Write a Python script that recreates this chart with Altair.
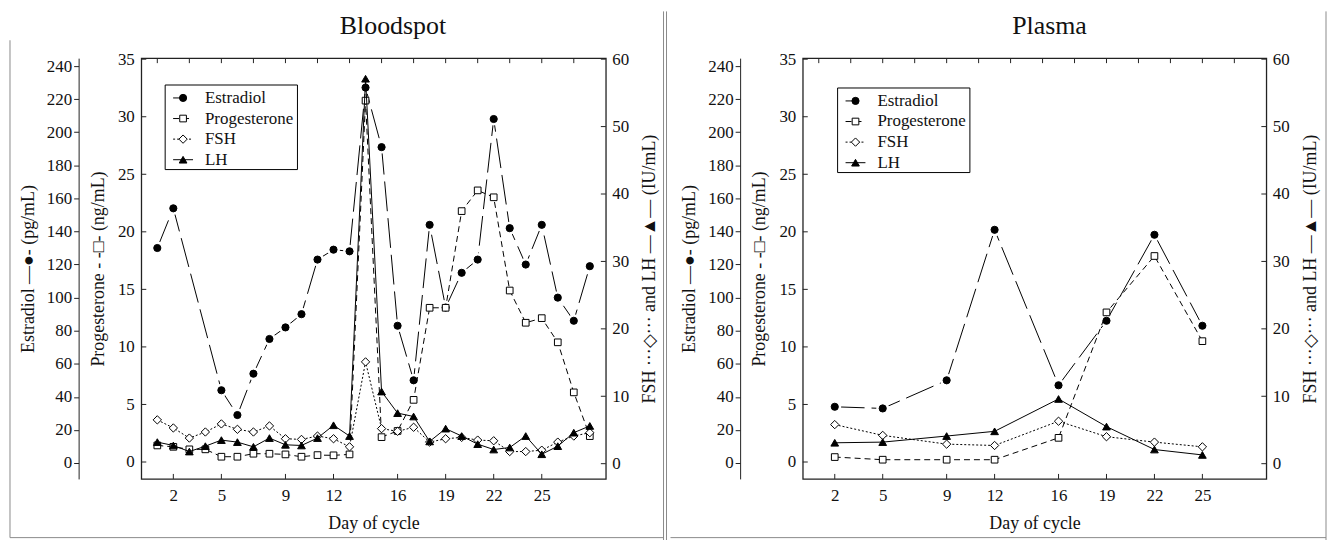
import altair as alt
import pandas as pd

FONT = "Liberation Serif"
INK = "#111111"
FRAME = "#222222"
BORDER = "#8a8a8a"

NAMES = ["Estradiol", "Progesterone", "FSH", "LH"]

# ---- Bloodspot data ----
BS_DAYS = [1, 2, 3, 4, 5, 6, 7, 8, 9, 10, 11, 12, 13, 14, 15, 16, 17, 18, 19, 20, 21, 22, 23, 24, 25, 26, 27, 28]
BS_ESTR_DAYS = [1, 2, 5, 6, 7, 8, 9, 10, 11, 12, 13, 14, 15, 16, 17, 18, 19, 20, 21, 22, 23, 24, 25, 26, 27, 28]
BS_ESTR = [130, 154, 44, 29, 54, 75, 82, 90, 123, 129, 128, 227, 191, 83, 50, 144, 94, 115, 123, 208, 142, 120, 144, 100, 86, 119]
BS_PROG = [1.44, 1.32, 1.1, 1.1, 0.46, 0.46, 0.72, 0.72, 0.66, 0.46, 0.6, 0.58, 0.66, 31.4, 2.16, 2.7, 5.4, 13.4, 13.4, 21.8, 23.6, 23.0, 14.9, 12.1, 12.5, 10.4, 6.05, 2.25]
BS_FSH = [6.5, 5.3, 3.8, 4.7, 5.9, 5.1, 4.7, 5.6, 3.7, 3.6, 4.1, 3.7, 2.5, 15.1, 5.2, 4.8, 5.4, 3.2, 3.7, 3.9, 3.5, 3.4, 1.8, 1.8, 2.0, 3.2, 4.1, 4.6]
BS_LH = [3.2, 2.7, 1.8, 2.6, 3.5, 3.2, 2.5, 3.8, 2.8, 2.7, 3.8, 5.7, 4.1, 57.1, 10.7, 7.5, 7.0, 3.3, 5.2, 4.1, 2.9, 2.1, 2.4, 4.1, 1.4, 2.6, 4.6, 5.6]

# ---- Plasma data ----
PL_DAYS = [2, 5, 9, 12, 16, 19, 22, 25]
PL_ESTR = [34, 33, 50, 141, 47, 86, 138, 83]
PL_PROG = [0.43, 0.2, 0.2, 0.2, 2.1, 13.0, 17.9, 10.5]
PL_FSH = [5.8, 4.2, 2.9, 2.7, 6.3, 4.0, 3.2, 2.5]
PL_LH = [3.1, 3.2, 4.1, 4.8, 9.6, 5.5, 2.1, 1.3]

# ---- ticks ----
X_TICKS = [2, 5, 9, 12, 16, 19, 22, 25]
X_TOP_TICKS = [1, 3, 5, 7, 9, 11, 13, 15, 17, 19, 21, 23, 25, 27]
E_TICKS = [0, 20, 40, 60, 80, 100, 120, 140, 160, 180, 200, 220, 240]
P_TICKS = [0, 5, 10, 15, 20, 25, 30, 35]
L_TICKS = [0, 10, 20, 30, 40, 50, 60]

X_DOMAIN = [0, 29]
E_DOMAIN = [-9.62, 244.8]
P_DOMAIN = [-1.47, 35.09]
L_DOMAIN = [-2.26, 60.15]

DASH = {"Estradiol": [30, 7], "Progesterone": [6, 4], "FSH": [2, 2]}
SHAPE = {"Estradiol": "circle", "Progesterone": "square", "FSH": "diamond", "LH": "triangle-up"}
FILL = {"Estradiol": "black", "Progesterone": "white", "FSH": "white", "LH": "black"}
SIZE = {"Estradiol": 52, "Progesterone": 45, "FSH": 70, "LH": 60}

E_TITLE = "Estradiol \u2014\u25cf- (pg/mL)"
P_TITLE = "Progesterone - -\u25a1- (ng/mL)"
L_TITLE = "FSH \u00b7\u00b7\u00b7\u25c7\u00b7\u00b7\u00b7 and LH \u2014\u25b2\u2014 (IU/mL)"

H = 423


def one_row():
    return pd.DataFrame({"k": [0]})


def ysc(dom):
    return alt.Scale(domain=dom, nice=False, zero=False)


def panel(title, title_x, e_days, e_vals, days, p_vals, f_vals, l_vals, W, lx, ly, deco):
    xs = alt.Scale(domain=X_DOMAIN, nice=False, zero=False)
    x_axis = alt.Axis(values=X_TICKS, title="Day of cycle", domain=False, ticks=False, tickSize=0,
                      labelPadding=9, titlePadding=11, labelFontSize=17, titleFontSize=18,
                      labelOverlap=False, grid=False)

    def X(field):
        return alt.X(f"{field}:Q", scale=xs, axis=x_axis)

    e_axis = alt.Axis(orient="left", offset=63, values=E_TICKS, title=E_TITLE, domain=True,
                      domainColor=FRAME, ticks=True, tickSize=5, tickColor=FRAME,
                      labelPadding=2, titlePadding=9, labelFontSize=17, titleFontSize=18,
                      labelOverlap=False, grid=False)
    p_axis = alt.Axis(orient="left", values=P_TICKS, title=P_TITLE, domain=False, ticks=False,
                      tickSize=0, labelPadding=7, titlePadding=10, labelFontSize=17,
                      titleFontSize=18, labelOverlap=False, grid=False)
    l_axis = alt.Axis(orient="right", values=L_TICKS, title=L_TITLE, domain=False, ticks=False,
                      tickSize=0, labelPadding=6, titlePadding=12, labelFontSize=17,
                      titleFontSize=18, titleAngle=270, titleBaseline="top",
                      labelOverlap=False, grid=False)

    series = [
        ("Estradiol", e_days, e_vals, E_DOMAIN, e_axis),
        ("Progesterone", days, p_vals, P_DOMAIN, p_axis),
        ("FSH", days, f_vals, L_DOMAIN, l_axis),
        ("LH", days, l_vals, L_DOMAIN, None),
    ]
    layers = []
    for name, d, v, dom, axis in series:
        base = alt.Chart(pd.DataFrame({"day": d, "v": v}))
        kw = dict(color="black", strokeWidth=1)
        if name in DASH:
            kw["strokeDash"] = DASH[name]
        layers.append(base.mark_line(**kw).encode(
            x=X("day"), y=alt.Y("v:Q", scale=ysc(dom), axis=axis)))
        if name == "Estradiol":
            layers.append(base.mark_point(shape="circle", filled=True, fill="white", size=170,
                                          opacity=1).encode(
                x=X("day"), y=alt.Y("v:Q", scale=ysc(dom), axis=None)))
        layers.append(base.mark_point(shape=SHAPE[name], filled=True, fill=FILL[name],
                                      stroke="black", strokeWidth=1, size=SIZE[name],
                                      opacity=1).encode(
            x=X("day"), y=alt.Y("v:Q", scale=ysc(dom), axis=None)))

    # inward frame ticks
    layers.append(alt.Chart(pd.DataFrame({"t": P_TICKS})).mark_rule(color=FRAME, strokeWidth=1).encode(
        y=alt.Y("t:Q", scale=ysc(P_DOMAIN), axis=None), x=alt.value(0), x2=alt.value(5)))
    layers.append(alt.Chart(pd.DataFrame({"t": L_TICKS})).mark_rule(color=FRAME, strokeWidth=1).encode(
        y=alt.Y("t:Q", scale=ysc(L_DOMAIN), axis=None), x=alt.value(W - 5), x2=alt.value(W)))
    layers.append(alt.Chart(pd.DataFrame({"t": X_TOP_TICKS})).mark_rule(color=FRAME, strokeWidth=1).encode(
        x=X("t"), y=alt.value(0), y2=alt.value(5)))
    layers.append(alt.Chart(pd.DataFrame({"t": X_TICKS})).mark_rule(color=FRAME, strokeWidth=1).encode(
        x=X("t"), y=alt.value(H - 5), y2=alt.value(H)))

    # legend box
    layers.append(alt.Chart(one_row()).mark_rect(fill="white", stroke="black", strokeWidth=1).encode(
        x=alt.value(lx), x2=alt.value(lx + 133), y=alt.value(ly), y2=alt.value(ly + 85)))
    for i, name in enumerate(NAMES):
        yy = ly + 13 + i * 20.7
        x_end = lx + 20 if name == "Estradiol" else lx + 28
        kw = dict(color="black", strokeWidth=1)
        if name in ("Progesterone", "FSH"):
            kw["strokeDash"] = DASH[name]
        layers.append(alt.Chart(one_row()).mark_rule(**kw).encode(
            x=alt.value(lx + 8), x2=alt.value(x_end), y=alt.value(yy)))
        layers.append(alt.Chart(one_row()).mark_point(shape=SHAPE[name], filled=True, fill=FILL[name],
                                                      stroke="black", strokeWidth=1,
                                                      size=SIZE[name], opacity=1).encode(
            x=alt.value(lx + 18), y=alt.value(yy)))
        layers.append(alt.Chart(one_row()).mark_text(align="left", baseline="middle", font=FONT,
                                                     fontSize=17, color=INK).encode(
            x=alt.value(lx + 40), y=alt.value(yy), text=alt.value(name)))

    # panel title
    layers.append(alt.Chart(one_row()).mark_text(align="center", baseline="alphabetic", font=FONT,
                                                 fontSize=26, color=INK).encode(
        x=alt.value(title_x), y=alt.value(-24), text=alt.value(title)))

    # decorative borders
    for (x1, x2, y1, y2) in deco:
        if x1 == x2:
            enc = dict(x=alt.value(x1), y=alt.value(y1), y2=alt.value(y2))
        else:
            enc = dict(x=alt.value(x1), x2=alt.value(x2), y=alt.value(y1))
        layers.append(alt.Chart(one_row()).mark_rule(color=BORDER, strokeWidth=1).encode(**enc))

    return alt.layer(*layers).resolve_scale(y="independent").properties(width=W, height=H)


left = panel("Bloodspot", 253, BS_ESTR_DAYS, BS_ESTR, BS_DAYS, BS_PROG, BS_FSH, BS_LH, 467, 24, 27,
             [(-132, -132, -18, 482), (-132, 525, 482, 482), (525, 525, -47, 485), (528, 528, -47, 485)])
right = panel("Plasma", 248, PL_DAYS, PL_ESTR, PL_DAYS, PL_PROG, PL_FSH, PL_LH, 466, 35, 30,
              [(-133, 526, 482, 482), (526, 526, -47, 485)])

chart = alt.hconcat(left, right, spacing=0).properties(padding=0, background="white").configure_view(
    stroke=FRAME, strokeWidth=1.3
).configure_axis(
    labelFont=FONT, titleFont=FONT, labelColor=INK, titleColor=INK, titleFontWeight="normal"
)

chart.save("out.html", embed_options={"renderer": "svg", "actions": False})
